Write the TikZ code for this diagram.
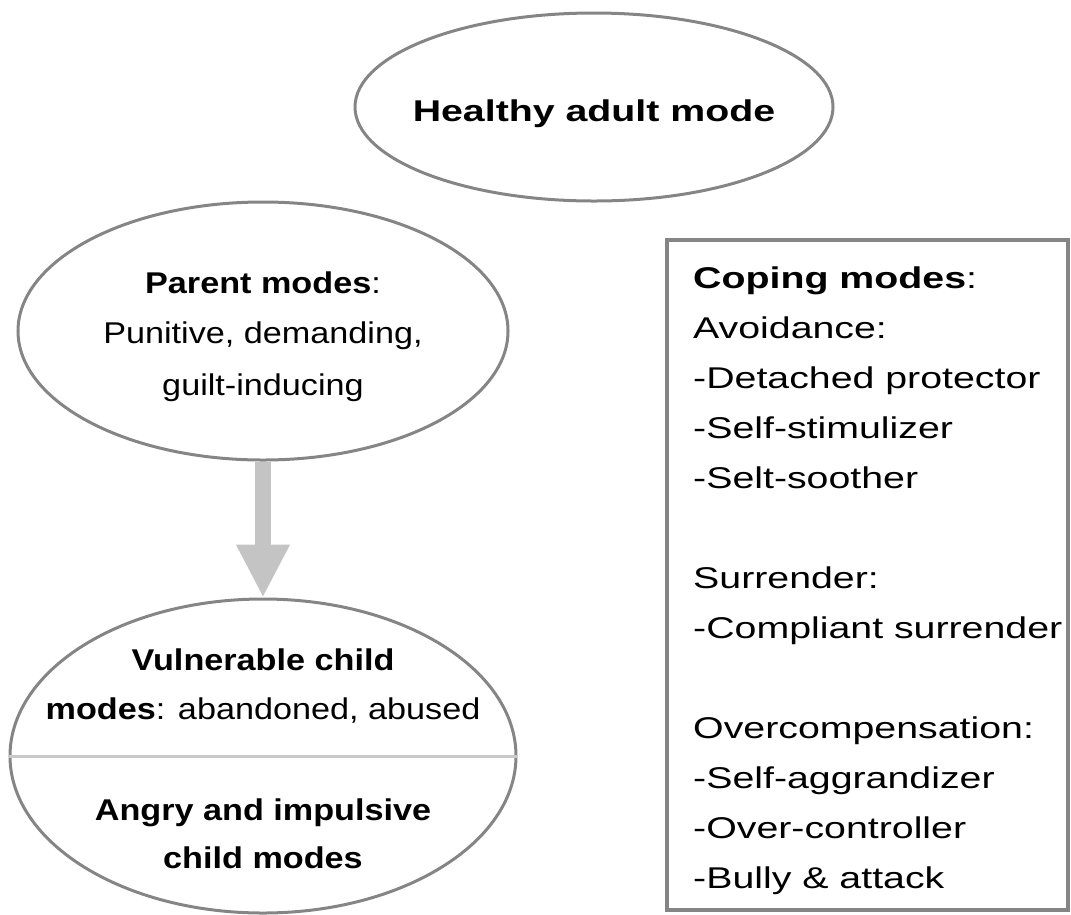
\documentclass[tikz,border=0pt]{standalone}
\usepackage{fontspec}
\setmainfont{Liberation Sans}
\newfontfamily\wfont[FakeStretch=1.31]{Liberation Sans}
\newfontfamily\nfont[FakeStretch=1.14]{Liberation Sans}
\usetikzlibrary{shapes.geometric,arrows.meta}
\definecolor{edgegray}{HTML}{858585}
\definecolor{divgray}{HTML}{C8C8C8}
\definecolor{arrgray}{HTML}{C4C4C4}
\tikzset{
  oval/.style={ellipse, draw=edgegray, line width=3pt, inner sep=0pt},
  wtxt/.style={anchor=base, inner sep=0pt, font=\wfont\fontsize{30}{50}\selectfont},
  ntxt/.style={anchor=base, inner sep=0pt, font=\nfont\fontsize{30}{50}\selectfont},
  btxt/.style={anchor=base west, inner sep=0pt, font=\wfont\fontsize{30}{50}\selectfont},
  copebox/.style={rectangle, draw=edgegray, line width=4pt, inner sep=0pt},
  bigarrow/.style={draw=arrgray, line width=16pt, -{Triangle[length=53pt,width=50pt]}}
}
\begin{document}
\begin{tikzpicture}[x=1pt,y=-1pt]
\useasboundingbox (0,0) rectangle (1071,914);
% ellipses
\node[oval, minimum width=478pt, minimum height=188pt] (healthy) at (594,107) {};
\node[wtxt] (healthyT) at (594,121) {\bfseries Healthy adult mode};

\node[oval, minimum width=490pt, minimum height=258pt] (parent) at (263,331) {};
\node[ntxt] (parentA) at (263,293) {\textbf{Parent modes}:};
\node[ntxt] (parentB) at (263,343) {Punitive, demanding,};
\node[ntxt] (parentC) at (263,395) {guilt-inducing};

\node[oval, minimum width=506pt, minimum height=314pt] (child) at (263,756) {};
\draw[divgray, line width=3pt] (child.west) -- (child.east);
\node[ntxt] (childA) at (263,670) {\bfseries Vulnerable child};
\node[ntxt] (childB) at (263,719) {\textbf{modes}: abandoned, abused};
\node[ntxt] (childC) at (263,820) {\bfseries Angry and impulsive};
\node[ntxt] (childD) at (263,868) {\bfseries child modes};

% arrow
\draw[bigarrow] (parent.south) -- (child.north);

% coping box
\node[copebox, minimum width=401pt, minimum height=670pt] (cope) at (867.5,575) {};
\node[btxt] (c0) at (693,288) {\textbf{Coping modes}:};
\node[btxt] (c1) at (693,338) {Avoidance:};
\node[btxt] (c2) at (693,388) {-Detached protector};
\node[btxt] (c3) at (693,438) {-Self-stimulizer};
\node[btxt] (c4) at (693,488) {-Selt-soother};
\node[btxt] (c5) at (693,588) {Surrender:};
\node[btxt] (c6) at (693,638) {-Compliant surrender};
\node[btxt] (c7) at (693,738) {Overcompensation:};
\node[btxt] (c8) at (693,788) {-Self-aggrandizer};
\node[btxt] (c9) at (693,838) {-Over-controller};
\node[btxt] (c10) at (693,888) {-Bully \& attack};
\end{tikzpicture}
\end{document}
